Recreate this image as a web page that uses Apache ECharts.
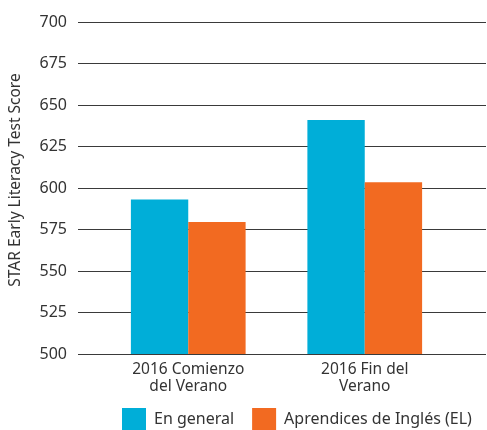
<!DOCTYPE html>
<html><head><meta charset="utf-8">
<script src="https://cdn.jsdelivr.net/npm/echarts@6/dist/echarts.min.js"></script>
<style>html,body{margin:0;padding:0;background:#fff}#c{width:487px;height:430px}</style>
</head><body><div id="c"></div>
<script>
const categories = ['2016 Comienzo\ndel Verano', '2016 Fin del\nVerano'];
const seriesNames = ['En general', 'Aprendices de Inglés (EL)'];
const enGeneral = [593, 641];
const aprendicesEL = [579.5, 603.5];
const yMin = 500, yMax = 700, yStep = 25;
const colors = ['#00AED8', '#F26A21'];
const font = '"Noto Sans", "Open Sans", sans-serif';

const chart = echarts.init(document.getElementById('c'), null, {renderer: 'canvas'});
chart.setOption({
  animation: false,
  textStyle: {fontFamily: font},
  grid: [
    {left: 78, right: 1, top: 22, bottom: 76, containLabel: false, outerBoundsMode: 'none'},
    {left: 100, right: 34, top: 22, bottom: 76, containLabel: false, outerBoundsMode: 'none'}
  ],
  xAxis: [
    {gridIndex: 0, type: 'value', show: false},
    {gridIndex: 1, type: 'category', data: categories,
     axisLine: {show: false}, axisTick: {show: false},
     axisLabel: {color: '#333', fontSize: 15.5, lineHeight: 17, margin: 7, fontFamily: font}}
  ],
  yAxis: [
    {gridIndex: 0, type: 'value', min: yMin, max: yMax, interval: yStep,
     name: 'STAR Early Literacy Test Score', nameLocation: 'middle', nameGap: 54,
     nameTextStyle: {color: '#333', fontSize: 15.5, fontFamily: font, padding: [0, 0, 0, 16]},
     axisLine: {show: false}, axisTick: {show: false},
     axisLabel: {color: '#333', fontSize: 16, margin: 11, fontFamily: font},
     splitLine: {show: true, lineStyle: {color: '#3a3a3a', width: 1}}},
    {gridIndex: 1, type: 'value', min: yMin, max: yMax, interval: yStep, show: false,
     splitLine: {show: false}}
  ],
  legend: {
    left: 122, top: 408, padding: 0, itemWidth: 24, itemHeight: 22, itemGap: 18,
    icon: 'rect',
    textStyle: {color: '#333', fontSize: 16, fontFamily: font, padding: [0, 0, 0, 3]},
    data: seriesNames
  },
  series: [
    {name: seriesNames[0], type: 'bar', xAxisIndex: 1, yAxisIndex: 1, data: enGeneral,
     itemStyle: {color: colors[0]}, barGap: '0%', barCategoryGap: '35%'},
    {name: seriesNames[1], type: 'bar', xAxisIndex: 1, yAxisIndex: 1, data: aprendicesEL,
     itemStyle: {color: colors[1]}, barGap: '0%', barCategoryGap: '35%'}
  ]
});
</script></body></html>
